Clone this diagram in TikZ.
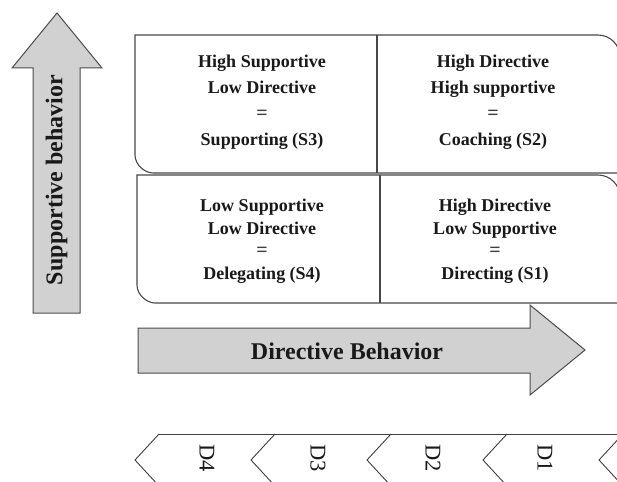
\documentclass[tikz,border=0pt]{standalone}
\usepackage{fontspec}
\setmainfont{Liberation Serif}
\newcommand{\eqline}{{\fontsize{20}{20}\selectfont\color{black!75}=}}
\begin{document}
\begin{tikzpicture}[x=1pt,y=-1pt,
  boxline/.style={draw=black!72,line width=1.1pt},
  arrowshape/.style={draw=black!70,fill=black!18,line width=1pt},
  chev/.style={draw=black!75,line width=0.9pt},
  quad/.style={align=center,font=\bfseries\fontsize{18}{26}\selectfont,text=black!90},
  quadb/.style={align=center,font=\bfseries\fontsize{18}{22.5}\selectfont,text=black!90},
  dlabel/.style={font=\fontsize{22.5}{26}\selectfont,rotate=-90,text=black!90}]
\clip (0,0) rectangle (617,481);
\fill[white] (0,0) rectangle (617,481);
% supportive arrow
\draw[arrowshape] (57,13) -- (102,68) -- (80,68) -- (80,313) -- (33,313) -- (33,68) -- (12,68) -- cycle;
\node[rotate=90,font=\bfseries\fontsize{24}{28}\selectfont,text=black!90] (sup) at (56.5,180) {Supportive behavior};
% top box
\draw[boxline] (135,35) -- (598,35) .. controls (610.1,35) and (620,44.9) .. (620,57) -- (620,173) -- (153,173) .. controls (144.9,173) and (135,164.9) .. (135,155) -- cycle;
\draw[boxline] (377,35) -- (377,173);
% bottom box
\draw[boxline] (137,175) -- (598,175) .. controls (610.1,175) and (620,184.9) .. (620,197) -- (620,303) -- (155,303) .. controls (146.9,303) and (137,294.9) .. (137,285) -- cycle;
\draw[boxline] (380,175) -- (380,303);
% quadrant texts
\node[quad] (s3) at (262,102) {High Supportive\\Low Directive\\\eqline\\Supporting (S3)};
\node[quad] (s2) at (493,102) {High Directive\\High supportive\\\eqline\\Coaching (S2)};
\node[quadb] (s4) at (262,241) {Low Supportive\\Low Directive\\\eqline\\Delegating (S4)};
\node[quadb] (s1) at (495,241) {High Directive\\Low Supportive\\\eqline\\Directing (S1)};
% directive arrow
\draw[arrowshape] (138,328) -- (530,328) -- (530,305) -- (585,350) -- (530,395) -- (530,373) -- (138,373) -- cycle;
\node[font=\bfseries\fontsize{24}{28}\selectfont,text=black!90] (dir) at (347,351) {Directive Behavior};
% chevrons
\draw[chev] (159,434) -- (640,434);
\foreach \x in {135,251,367,483,599} {
  \draw[chev] (\x+24,434) -- (\x,460) -- (\x+24,486);
}
\node[dlabel] (d4) at (207,458) {D4};
\node[dlabel] (d3) at (318,458) {D3};
\node[dlabel] (d2) at (433,458) {D2};
\node[dlabel] (d1) at (545,458) {D1};
\end{tikzpicture}
\end{document}
